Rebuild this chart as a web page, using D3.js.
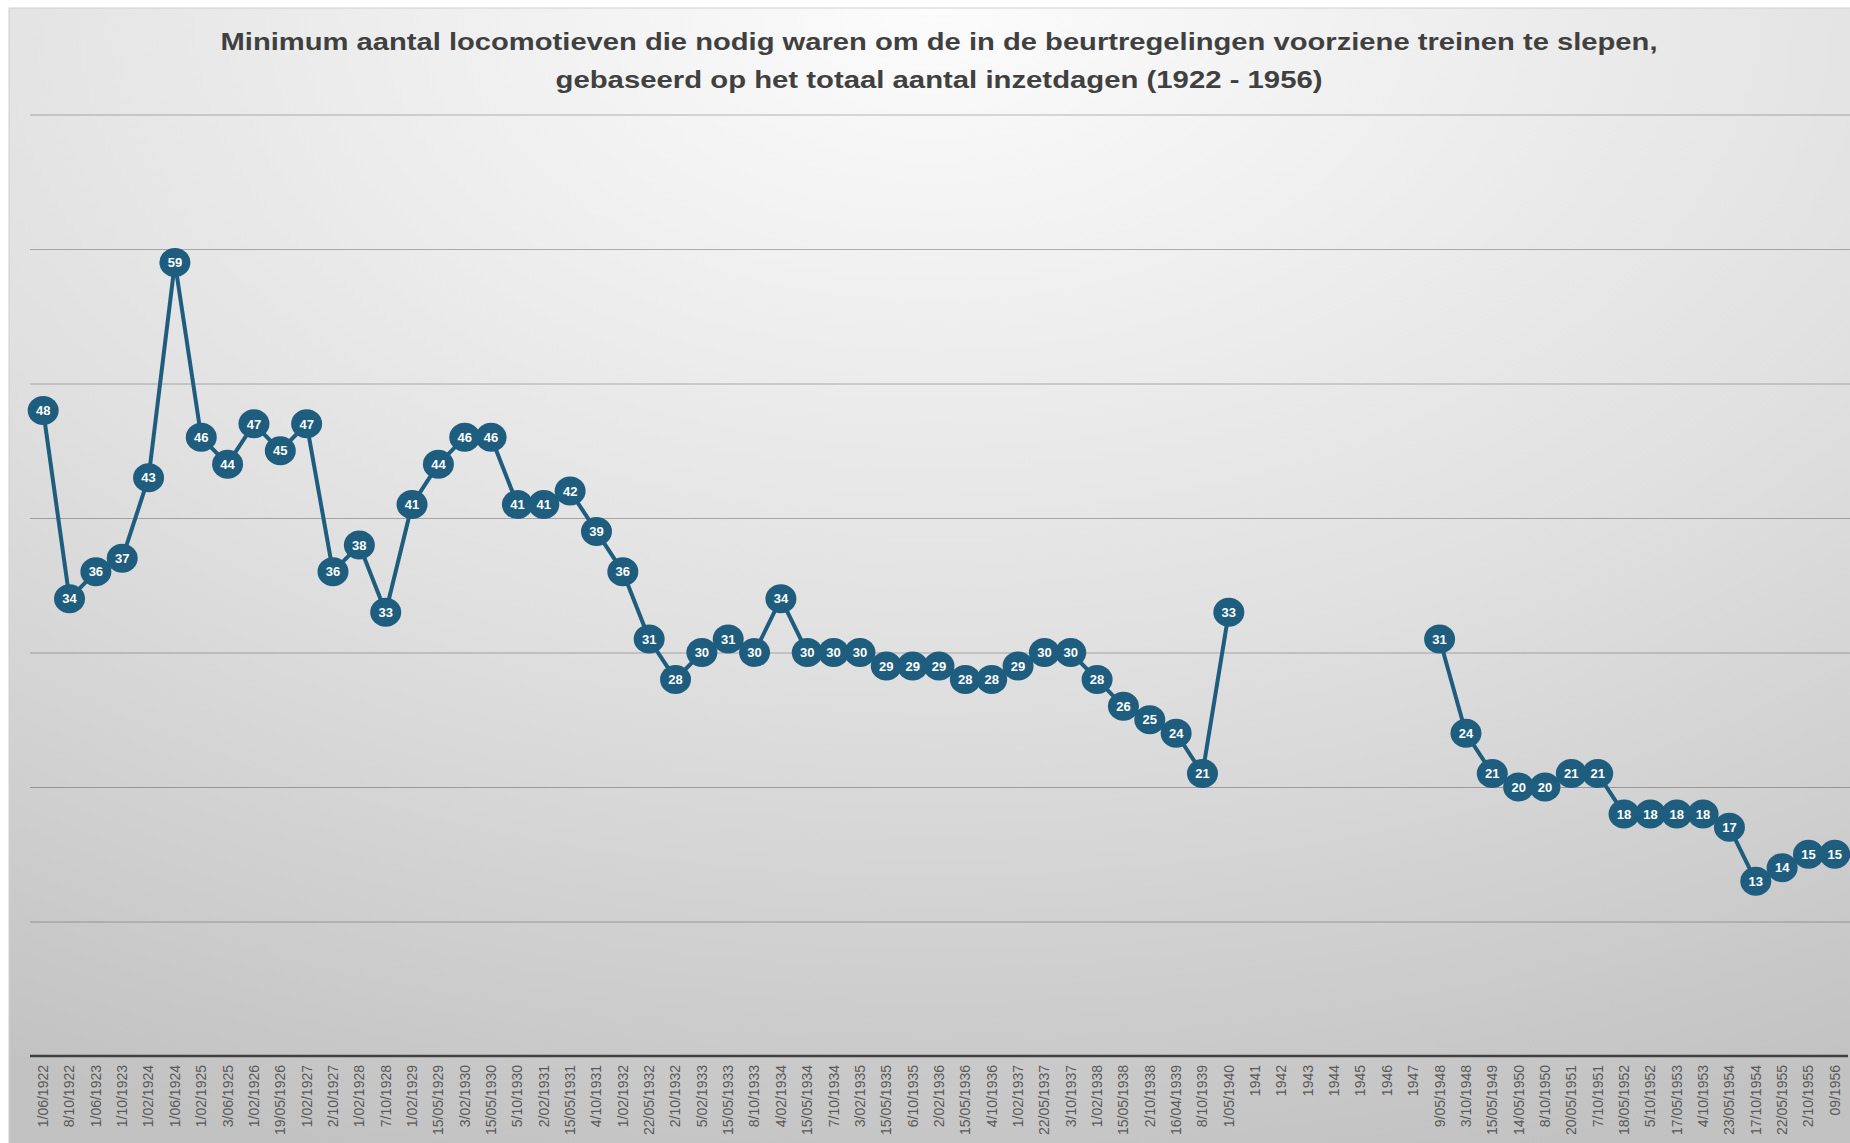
<!DOCTYPE html>
<html>
<head>
<meta charset="utf-8">
<script src="https://cdn.jsdelivr.net/npm/d3@7"></script>
<style>
    html, body { margin: 0; padding: 0; background: #fff; }
    svg { display: block; }
    .grid line { stroke: #000; stroke-opacity: 0.28; }
    .grid path { display: none; }
    .x-axis path, .x-axis line { display: none; }
    .x-axis text { font-family: "Liberation Sans", Arial, sans-serif; font-size: 14px; fill: #595959; }
</style>
</head>
<body>
<svg width="1850" height="1143"></svg>
<script>
(function () {
    'use strict';

    // datums van de beurtregelingen
    const dates = [
        '1/06/1922', '8/10/1922', '1/06/1923', '1/10/1923', '1/02/1924', '1/06/1924',
        '1/02/1925', '3/06/1925', '1/02/1926', '19/05/1926', '1/02/1927', '2/10/1927',
        '1/02/1928', '7/10/1928', '1/02/1929', '15/05/1929', '3/02/1930', '15/05/1930',
        '5/10/1930', '2/02/1931', '15/05/1931', '4/10/1931', '1/02/1932', '22/05/1932',
        '2/10/1932', '5/02/1933', '15/05/1933', '8/10/1933', '4/02/1934', '15/05/1934',
        '7/10/1934', '3/02/1935', '15/05/1935', '6/10/1935', '2/02/1936', '15/05/1936',
        '4/10/1936', '1/02/1937', '22/05/1937', '3/10/1937', '1/02/1938', '15/05/1938',
        '2/10/1938', '16/04/1939', '8/10/1939', '1/05/1940', '1941', '1942', '1943',
        '1944', '1945', '1946', '1947', '9/05/1948', '3/10/1948', '15/05/1949',
        '14/05/1950', '8/10/1950', '20/05/1951', '7/10/1951', '18/05/1952', '5/10/1952',
        '17/05/1953', '4/10/1953', '23/05/1954', '17/10/1954', '22/05/1955', '2/10/1955',
        '09/1956'
    ];

    // aantal locomotieven (null = geen gegevens, oorlogsjaren)
    const locomotives = [
        48, 34, 36, 37, 43, 59,
        46, 44, 47, 45, 47, 36,
        38, 33, 41, 44, 46, 46,
        41, 41, 42, 39, 36, 31,
        28, 30, 31, 30, 34, 30,
        30, 30, 29, 29, 29, 28,
        28, 29, 30, 30, 28, 26,
        25, 24, 21, 33, null, null, null,
        null, null, null, null, 31, 24, 21,
        20, 20, 21, 21, 18, 18,
        18, 18, 17, 13, 14, 15,
        15
    ];

    const gridTicks = [10, 20, 30, 40, 50, 60, 70];

    const titleLines = [
        'Minimum aantal locomotieven die nodig waren om de in de beurtregelingen voorziene treinen te slepen,',
        'gebaseerd op het totaal aantal inzetdagen (1922 - 1956)'
    ];

    const data = dates.map((d, i) => ({ date: d, value: locomotives[i] }));

    const svg = d3.select('svg');
    const width = 1850;
    const height = 1143;
    const blue = '#1e5d7e';

    // achtergrond met radiaal verloop
    const defs = svg.append('defs');
    const grad = defs.append('radialGradient')
        .attr('id', 'bg')
        .attr('cx', '50%').attr('cy', '0%')
        .attr('fx', '50%').attr('fy', '0%')
        .attr('r', '105%');
    grad.append('stop').attr('offset', '0%').attr('stop-color', '#fcfcfc');
    grad.append('stop').attr('offset', '55%').attr('stop-color', '#e0e0e0');
    grad.append('stop').attr('offset', '100%').attr('stop-color', '#c2c2c2');

    svg.append('rect')
        .attr('x', 9).attr('y', 8)
        .attr('width', width).attr('height', height)
        .attr('fill', 'url(#bg)')
        .attr('stroke', '#cfcfcf');

    // schalen
    const xScale = d3.scaleBand()
        .domain(dates)
        .range([30, 1848]);

    const yScale = d3.scaleLinear()
        .domain([0, 70])
        .range([1056, 114.5]);

    const cx = d => xScale(d.date) + xScale.bandwidth() / 2;

    // rasterlijnen
    svg.append('g')
        .attr('class', 'grid')
        .attr('transform', 'translate(30, 0)')
        .call(d3.axisLeft(yScale)
            .tickValues(gridTicks)
            .tickSize(-(width - 30))
            .tickFormat(''));

    // x-as
    const xAxis = svg.append('g')
        .attr('class', 'x-axis')
        .attr('transform', `translate(0, ${yScale(0)})`)
        .call(d3.axisBottom(xScale).tickSize(0));

    xAxis.selectAll('text')
        .attr('transform', 'rotate(-90)')
        .attr('text-anchor', 'end')
        .attr('dy', '0.35em')
        .attr('x', -9)
        .attr('y', 0);

    svg.append('line')
        .attr('x1', 30).attr('x2', 1848)
        .attr('y1', yScale(0)).attr('y2', yScale(0))
        .attr('stroke', '#404040')
        .attr('stroke-width', 2.5);

    // lijn
    const line = d3.line()
        .defined(d => d.value !== null)
        .x(cx)
        .y(d => yScale(d.value));

    svg.append('path')
        .datum(data)
        .attr('d', line)
        .attr('fill', 'none')
        .attr('stroke', blue)
        .attr('stroke-width', 4)
        .attr('stroke-linejoin', 'round');

    // labels in ovaaltjes
    const labels = svg.append('g')
        .selectAll('g')
        .data(data.filter(d => d.value !== null))
        .enter()
        .append('g')
        .attr('transform', d => `translate(${cx(d)}, ${yScale(d.value)})`);

    labels.append('ellipse')
        .attr('rx', 15.5)
        .attr('ry', 14.5)
        .attr('fill', blue);

    labels.append('text')
        .attr('text-anchor', 'middle')
        .attr('dy', '0.36em')
        .style('font-family', '"Liberation Sans", Arial, sans-serif')
        .style('font-weight', 'bold')
        .style('font-size', '13px')
        .style('fill', '#fff')
        .text(d => d.value);

    // titel
    const titleWidths = [1437, 767];
    svg.append('g')
        .selectAll('text')
        .data(titleLines)
        .enter()
        .append('text')
        .attr('x', 939)
        .attr('y', (d, i) => 50 + i * 38)
        .attr('text-anchor', 'middle')
        .attr('textLength', (d, i) => titleWidths[i])
        .attr('lengthAdjust', 'spacingAndGlyphs')
        .style('font-family', '"Liberation Sans", Arial, sans-serif')
        .style('font-weight', 'bold')
        .style('font-size', '24px')
        .style('fill', '#404040')
        .text(d => d);
}());
</script>
</body>
</html>
